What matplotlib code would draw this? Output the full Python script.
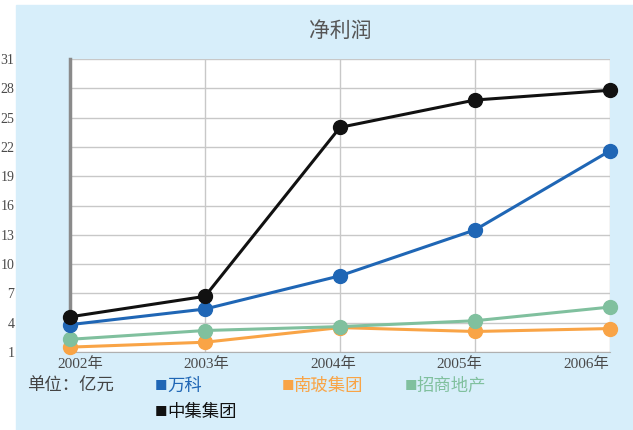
import matplotlib.pyplot as plt
import matplotlib.transforms as mtransforms
from matplotlib.patches import Rectangle

plt.rcParams['font.family'] = ['Liberation Serif', 'Noto Sans CJK SC', 'DejaVu Sans']

years = ['2002年', '2003年', '2004年', '2005年', '2006年']
vanke = [3.8, 5.4, 8.8, 13.5, 21.6]
nanbo = [1.5, 2.0, 3.5, 3.1, 3.4]
cmp = [2.3, 3.2, 3.6, 4.2, 5.6]
cimc = [4.6, 6.7, 24.0, 26.8, 27.8]
yticks = [1, 4, 7, 10, 13, 16, 19, 22, 25, 28, 31]

bg = '#d7eefa'
c_blue = '#1f66b5'
c_orange = '#f9a446'
c_green = '#80c09e'
c_black = '#111111'
cjk = ['Noto Sans CJK SC', 'DejaVu Sans']

fig = plt.figure(figsize=(6.33, 4.3), dpi=100)
fig.patches.append(Rectangle((16/633, 0), 1, 1 - 5/430, transform=fig.transFigure,
                             color=bg, zorder=-10))
ax = fig.add_axes([70/633, 1 - 352/430, 540/633, 293/430])
ax.set_facecolor('white')

x = range(len(years))
for vals, c in [(nanbo, c_orange), (cmp, c_green), (vanke, c_blue), (cimc, c_black)]:
    ax.plot(x, vals, color=c, lw=2.2, marker='o', ms=10, clip_on=False, zorder=3)

ax.set_xlim(0, 4)
ax.set_ylim(1, 31)
ax.set_yticks(yticks)
ax.set_xticks(list(x))
ax.set_xticklabels(years)
ax.grid(True, color='#c8c8c8', lw=1)
ax.set_axisbelow(True)
for s in ['top', 'right']:
    ax.spines[s].set_visible(False)
ax.spines['left'].set_color('#8a8a8a')
ax.spines['left'].set_linewidth(2.5)
ax.spines['bottom'].set_color('#b0b0b0')
ax.tick_params(length=0, colors='#4a4a4a', labelsize=10)
ax.tick_params(axis='y', pad=40)
ax.tick_params(axis='x', pad=4, labelsize=11)

# year labels sit a bit inward in the original
shifts = [10, 1, -7, -16, -24]
for lab, dx in zip(ax.get_xticklabels(), shifts):
    lab.set_transform(lab.get_transform() +
                      mtransforms.ScaledTranslation(dx/100, 0, fig.dpi_scale_trans))

fig.text(340/633, 1 - 31/430, '净利润', ha='center', va='center', fontsize=15,
         color='#555555', family=cjk)

fig.text(27/633, 1 - 386/430, '单位：亿元', ha='left', va='center', fontsize=12.5,
         color='#444444', family=cjk)
items = [('万科', c_blue, 155, 386), ('南玻集团', c_orange, 282, 386),
         ('招商地产', c_green, 405, 386), ('中集集团', c_black, 155, 412)]
for label, c, px, py in items:
    fig.text(px/633, 1 - py/430, '■', ha='left', va='center', fontsize=9,
             color=c, family=cjk)
    fig.text((px + 12)/633, 1 - py/430, label, ha='left', va='center', fontsize=12.5,
             color=c, family=cjk)

fig.savefig('out.png', dpi=100)
